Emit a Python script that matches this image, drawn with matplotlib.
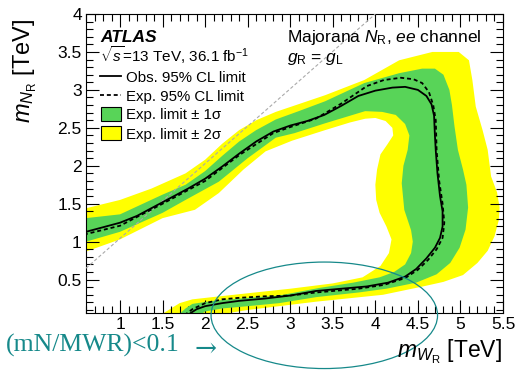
import numpy as np
import matplotlib
matplotlib.use("Agg")
import matplotlib.pyplot as plt
from matplotlib.lines import Line2D
from matplotlib.patches import Rectangle, Ellipse
from matplotlib.ticker import MultipleLocator, FuncFormatter

plt.rcParams['font.family'] = ['Liberation Sans', 'DejaVu Sans']
plt.rcParams['mathtext.fontset'] = 'custom'
plt.rcParams['mathtext.rm'] = 'Liberation Sans'
plt.rcParams['mathtext.it'] = 'Liberation Sans:italic'
plt.rcParams['mathtext.bf'] = 'Liberation Sans:bold'

# ---------------- data (TeV) ----------------
obs_x = [0.5, 0.6, 0.8, 1.0, 1.2, 1.4, 1.6, 1.8, 2.0, 2.2, 2.4, 2.6, 2.8, 3.0, 3.2, 3.4, 3.6, 3.8,
         4.0, 4.2, 4.35, 4.5, 4.6, 4.66, 4.69, 4.70, 4.71, 4.73, 4.76, 4.79, 4.79, 4.76, 4.70,
         4.60, 4.48, 4.35, 4.15, 3.9, 3.6, 3.3, 3.0, 2.7, 2.4, 2.2, 2.0, 1.9, 1.83, 1.8]
obs_y = [1.09, 1.13, 1.19, 1.25, 1.34, 1.46, 1.58, 1.70, 1.83, 1.99, 2.16, 2.32, 2.45, 2.53, 2.59,
         2.67, 2.79, 2.92, 2.99, 3.03, 3.04, 3.00, 2.92, 2.81, 2.66, 2.40, 2.20, 1.90, 1.60, 1.40,
         1.20, 1.05, 0.92, 0.78, 0.64, 0.54, 0.46, 0.41, 0.38, 0.35, 0.29, 0.25, 0.22, 0.19, 0.15,
         0.11, 0.06, 0.03]

exp_x = [0.5, 0.6, 1.0, 1.5, 2.0, 2.4, 2.8, 3.0, 3.3, 3.6, 3.9, 4.1, 4.3, 4.45, 4.55, 4.63, 4.68,
         4.71, 4.72, 4.75, 4.79, 4.81, 4.79, 4.72, 4.62, 4.50, 4.35, 4.10, 3.80, 3.50, 3.30, 3.0,
         2.7, 2.4, 2.2, 2.0, 1.85, 1.79, 1.75]
exp_y = [1.06, 1.10, 1.21, 1.50, 1.80, 2.14, 2.43, 2.51, 2.62, 2.82, 3.05, 3.13, 3.16, 3.14, 3.09,
         2.97, 2.80, 2.60, 2.20, 1.80, 1.50, 1.25, 1.05, 0.90, 0.76, 0.63, 0.52, 0.43, 0.38, 0.35,
         0.33, 0.29, 0.28, 0.26, 0.24, 0.19, 0.11, 0.06, 0.0]

# +-1 sigma band: outer and inner boundaries
g_out_x = [0.5, 0.6, 1.0, 1.5, 1.77, 2.0, 2.2, 2.4, 2.6, 2.83, 3.1, 3.41, 3.87, 4.28, 4.55, 4.70,
           4.80, 4.87, 4.90, 4.93, 4.97, 5.03, 5.07, 5.09, 5.06, 4.99, 4.88, 4.72, 4.48, 4.13,
           3.80, 3.31, 2.87, 2.5, 2.2, 2.0, 1.9]
g_out_y = [1.27, 1.31, 1.36, 1.62, 1.75, 1.93, 2.13, 2.32, 2.47, 2.61, 2.72, 2.85, 3.09, 3.22,
           3.28, 3.28, 3.20, 3.00, 2.80, 2.52, 2.21, 1.95, 1.75, 1.45, 1.16, 0.92, 0.72, 0.57,
           0.46, 0.38, 0.33, 0.27, 0.19, 0.15, 0.12, 0.08, 0.0]
g_in_x = [0.5, 0.6, 1.0, 1.5, 1.77, 2.16, 2.5, 2.83, 3.05, 3.41, 3.88, 4.08, 4.24, 4.35, 4.40,
          4.38, 4.33, 4.31, 4.34, 4.42, 4.44, 4.42, 4.35, 4.22, 4.05, 3.74, 3.34, 2.87, 2.5,
          2.09, 1.85, 1.77, 1.71, 1.68]
g_in_y = [0.97, 1.00, 1.13, 1.38, 1.55, 1.79, 2.10, 2.37, 2.43, 2.56, 2.72, 2.71, 2.67, 2.55,
          2.40, 2.21, 2.00, 1.77, 1.42, 1.15, 1.00, 0.85, 0.70, 0.60, 0.53, 0.46, 0.39, 0.29,
          0.26, 0.22, 0.18, 0.12, 0.06, 0.0]

# +-2 sigma band: outer and inner boundaries
y_out_x = [0.5, 0.6, 1.0, 1.37, 1.77, 2.0, 2.2, 2.4, 2.6, 2.83, 3.41, 3.87, 4.28, 4.67, 4.98,
           5.10, 5.14, 5.18, 5.26, 5.32, 5.36, 5.43, 5.46, 5.45, 5.40, 5.32, 5.20, 5.03, 4.80,
           4.56, 4.09, 3.31, 2.87, 2.5, 2.28, 2.2]
y_out_y = [1.40, 1.44, 1.55, 1.70, 1.90, 2.08, 2.29, 2.47, 2.60, 2.71, 2.93, 3.13, 3.39, 3.50,
           3.50, 3.39, 3.13, 2.78, 2.47, 2.21, 1.86, 1.65, 1.45, 1.28, 1.07, 0.88, 0.72, 0.56,
           0.47, 0.41, 0.30, 0.21, 0.15, 0.10, 0.06, 0.0]
y_in_x = [0.5, 0.6, 1.0, 1.5, 1.88, 2.16, 2.45, 2.71, 3.02, 3.41, 3.7, 3.88, 4.0, 4.12, 4.20,
          4.21, 4.14, 4.06, 4.02, 4.00, 4.01, 4.05, 4.13, 4.19, 4.16, 4.06, 3.85, 3.50, 3.0,
          2.5, 2.09, 1.85, 1.7, 1.6, 1.5, 1.45]
y_in_y = [0.83, 0.87, 1.03, 1.31, 1.42, 1.64, 1.95, 2.19, 2.33, 2.47, 2.57, 2.62, 2.63, 2.59,
          2.50, 2.40, 2.28, 2.15, 1.95, 1.75, 1.55, 1.38, 1.20, 1.03, 0.85, 0.68, 0.53, 0.45,
          0.38, 0.32, 0.27, 0.24, 0.19, 0.12, 0.05, 0.0]

diag_x = [0.6, 4.0]
diag_y = [0.65, 4.0]

x_ticks = [1, 1.5, 2, 2.5, 3, 3.5, 4, 4.5, 5, 5.5]
y_ticks = [0.5, 1, 1.5, 2, 2.5, 3, 3.5, 4]

# ---------------- figure ----------------
W, H = 518, 370
fig = plt.figure(figsize=(W / 100, H / 100), dpi=100)
fx = lambda px: px / W
fy = lambda py: 1 - py / H

ax = fig.add_axes([fx(86), fy(313), (503 - 86) / W, (313 - 14) / H])
ax.set_xlim(0.6, 5.5)
ax.set_ylim(0.06, 4.0)

yellow = '#ffff00'
green = '#58d458'

ax.fill(np.concatenate([y_out_x, y_in_x[::-1]]), np.concatenate([y_out_y, y_in_y[::-1]]),
        color=yellow, lw=0, zorder=1)
ax.fill(np.concatenate([g_out_x, g_in_x[::-1]]), np.concatenate([g_out_y, g_in_y[::-1]]),
        color=green, lw=0, zorder=2)
ax.plot(diag_x, diag_y, color='#aaaaaa', lw=0.8, ls=(0, (3, 2)), zorder=3)
ax.plot(exp_x, exp_y, color='black', lw=1.3, ls=(0, (2.2, 1.6)), zorder=4)
ax.plot(obs_x, obs_y, color='black', lw=1.3, zorder=5)

ax.xaxis.set_minor_locator(MultipleLocator(0.1))
ax.yaxis.set_minor_locator(MultipleLocator(0.1))
ax.set_xticks(x_ticks)
ax.set_yticks(y_ticks)
fmt = FuncFormatter(lambda v, p: ('%g' % v))
ax.xaxis.set_major_formatter(fmt)
ax.yaxis.set_major_formatter(fmt)
ax.tick_params(which='both', direction='in', top=True, right=True, width=0.8, labelsize=12.5)
ax.tick_params(which='major', length=9.5, pad=3)
ax.tick_params(which='minor', length=5)
for s in ax.spines.values():
    s.set_linewidth(0.8)

# axis titles
fig.text(fx(25), fy(19), r'$m_{N_{\mathrm{R}}}$ [TeV]', rotation=90, ha='center', va='top', fontsize=17)
fig.text(fx(502), fy(357), r'$m_{W_{\mathrm{R}}}$ [TeV]', ha='right', va='baseline', fontsize=16.5)

# ATLAS labels
fig.text(fx(100), fy(42), 'ATLAS', fontsize=12.5, fontweight='bold', fontstyle='italic', va='baseline')
fig.text(fx(100), fy(62), r'$\sqrt{s}$=13 TeV, 36.1 fb$^{-1}$', fontsize=11, va='baseline')
fig.text(fx(287), fy(42), r'Majorana $N_{\mathrm{R}}$, $ee$ channel', fontsize=12.5, va='baseline')
fig.text(fx(287), fy(62), r'$g_{\mathrm{R}}$ = $g_{\mathrm{L}}$', fontsize=12.5, va='baseline')

# legend (manual)
fig.add_artist(Line2D([fx(100), fx(121)], [fy(76), fy(76)], color='black', lw=1.3, transform=fig.transFigure))
fig.add_artist(Line2D([fx(100), fx(121)], [fy(95), fy(95)], color='black', lw=1.3, ls=(0, (2.2, 1.6)),
                      transform=fig.transFigure))
fig.add_artist(Rectangle((fx(101), fy(121)), fx(121) - fx(101), fy(107) - fy(121), facecolor=green,
                         edgecolor='black', lw=0.8, transform=fig.transFigure))
fig.add_artist(Rectangle((fx(101), fy(140)), fx(121) - fx(101), fy(126) - fy(140), facecolor=yellow,
                         edgecolor='black', lw=0.8, transform=fig.transFigure))
leg_labels = ['Obs. 95% CL limit', 'Exp. 95% CL limit', 'Exp. limit \u00b1 1\u03c3', 'Exp. limit \u00b1 2\u03c3']
for lab, py in zip(leg_labels, [76, 95, 114, 133]):
    fig.text(fx(126), fy(py), lab, fontsize=10.8, va='center_baseline')

# annotation
teal = '#16898a'
fig.add_artist(Ellipse((fx(324.3), fy(315.3)), 226.5 / W, 106.5 / H, fill=False, edgecolor=teal,
                       lw=0.9, transform=fig.transFigure))
fig.text(fx(6), fy(352), '(mN/MWR)<0.1', fontsize=18.5, color=teal, va='baseline',
         family=['Liberation Serif', 'DejaVu Serif'])
fig.text(fx(194), fy(346), '\u2192', fontsize=19, color=teal, va='center_baseline',
         family=['DejaVu Serif'])

fig.savefig('out.png', dpi=100)
